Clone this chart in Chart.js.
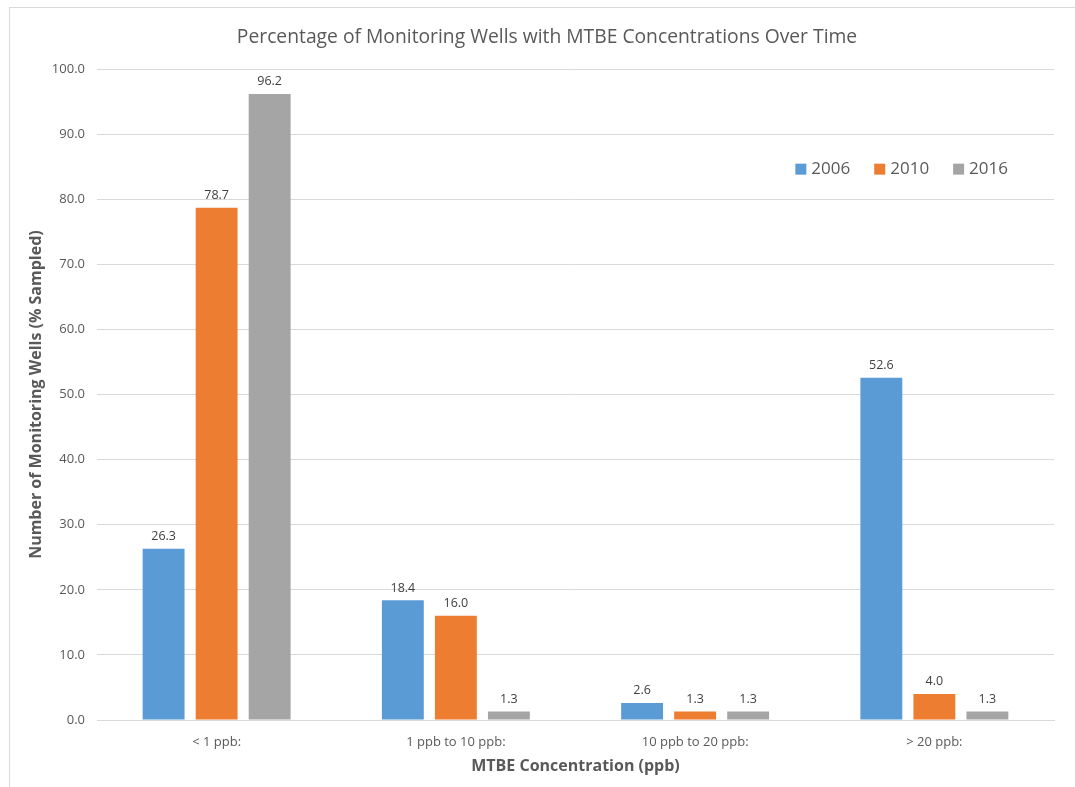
<!DOCTYPE html>
<html>
<head>
<meta charset="utf-8">
<script src="https://cdn.jsdelivr.net/npm/chart.js@4.4.1/dist/chart.umd.min.js"></script>
<style>
    html, body { margin: 0; padding: 0; background: #fff; overflow: hidden; }
    #frame { position: absolute; left: 9px; top: 7px; width: 1100px; height: 800px; border-left: 1px solid #d9d9d9; border-top: 1px solid #d9d9d9; }
    #wrap { position: absolute; left: 0; top: 0; width: 1075px; height: 787px; }
</style>
</head>
<body>
<div id="frame"></div>
<div id="wrap"><canvas id="mtbeChart"></canvas></div>
<script>
// データ
const categories = ['< 1 ppb:', '1 ppb to 10 ppb:', '10 ppb to 20 ppb:', '> 20 ppb:'];
const years = ['2006', '2010', '2016'];
const values2006 = [26.3, 18.4, 2.6, 52.6];
const values2010 = [78.7, 16.0, 1.3, 4.0];
const values2016 = [96.2, 1.3, 1.3, 1.3];
const yTicks = [0, 10, 20, 30, 40, 50, 60, 70, 80, 90, 100];

const colors = ['#5b9bd5', '#ed7d31', '#a5a5a5'];
const FONT = "'Open Sans', sans-serif";

// 棒の上に値を表示
const valueLabels = {
    id: 'valueLabels',
    afterDatasetsDraw(chart) {
        const ctx = chart.ctx;
        ctx.save();
        ctx.font = '12.5px ' + FONT;
        ctx.fillStyle = '#404040';
        ctx.textAlign = 'center';
        ctx.textBaseline = 'bottom';
        chart.data.datasets.forEach((ds, i) => {
            chart.getDatasetMeta(i).data.forEach((bar, j) => {
                ctx.fillText(ds.data[j].toFixed(1), bar.x, bar.y - 6);
            });
        });
        ctx.restore();
    }
};

// 凡例（グラフ内右上）
const insideLegend = {
    id: 'insideLegend',
    afterDraw(chart) {
        const ctx = chart.ctx;
        const area = chart.chartArea;
        ctx.save();
        ctx.font = '17px ' + FONT;
        ctx.textBaseline = 'middle';
        const box = 11, gap = 5, spacing = 24;
        const items = chart.data.datasets.map(ds => ({ text: ds.label, color: ds.backgroundColor }));
        const total = items.reduce((s, it) => s + box + gap + ctx.measureText(it.text).width, 0) + spacing * (items.length - 1);
        let x = area.right - 46 - total;
        const y = area.top + 100;
        items.forEach(it => {
            ctx.fillStyle = it.color;
            ctx.fillRect(x, y - box / 2, box, box);
            x += box + gap;
            ctx.fillStyle = '#595959';
            ctx.fillText(it.text, x, y);
            x += ctx.measureText(it.text).width + spacing;
        });
        ctx.restore();
    }
};

new Chart(document.getElementById('mtbeChart').getContext('2d'), {
    type: 'bar',
    data: {
        labels: categories,
        datasets: [
            { label: years[0], data: values2006, backgroundColor: colors[0] },
            { label: years[1], data: values2010, backgroundColor: colors[1] },
            { label: years[2], data: values2016, backgroundColor: colors[2] }
        ]
    },
    options: {
        responsive: true,
        maintainAspectRatio: false,
        animation: false,
        devicePixelRatio: 1,
        categoryPercentage: 0.665,
        barPercentage: 0.79,
        layout: { padding: { left: 40, right: 21, top: 0, bottom: 0 } },
        plugins: {
            legend: { display: false },
            tooltip: { enabled: false },
            title: {
                display: true,
                text: 'Percentage of Monitoring Wells with MTBE Concentrations Over Time',
                color: '#595959',
                font: { family: FONT, size: 19.3, weight: 'normal' },
                padding: { top: 26, bottom: 20 }
            }
        },
        scales: {
            y: {
                min: 0,
                max: 100,
                afterBuildTicks: s => { s.ticks = yTicks.map(v => ({ value: v })); },
                afterFit: s => { s.width = 57; },
                ticks: {
                    color: '#595959',
                    padding: 12,
                    font: { family: FONT, size: 13 },
                    callback: v => v.toFixed(1)
                },
                grid: { color: '#d9d9d9', drawTicks: false },
                border: { display: false },
                title: {
                    display: true,
                    text: 'Number of Monitoring Wells (% Sampled)',
                    color: '#595959',
                    font: { family: FONT, size: 16, weight: 'bold' },
                    padding: { top: -13, bottom: 0 }
                }
            },
            x: {
                afterFit: s => { s.height = 67; },
                ticks: {
                    color: '#595959',
                    padding: 6,
                    font: { family: FONT, size: 13 }
                },
                grid: { display: false },
                border: { color: '#d9d9d9' },
                title: {
                    display: true,
                    text: 'MTBE Concentration (ppb)',
                    color: '#595959',
                    font: { family: FONT, size: 16, weight: 'bold' },
                    padding: { top: 0, bottom: 11 }
                }
            }
        }
    },
    plugins: [valueLabels, insideLegend]
});
</script>
</body>
</html>
